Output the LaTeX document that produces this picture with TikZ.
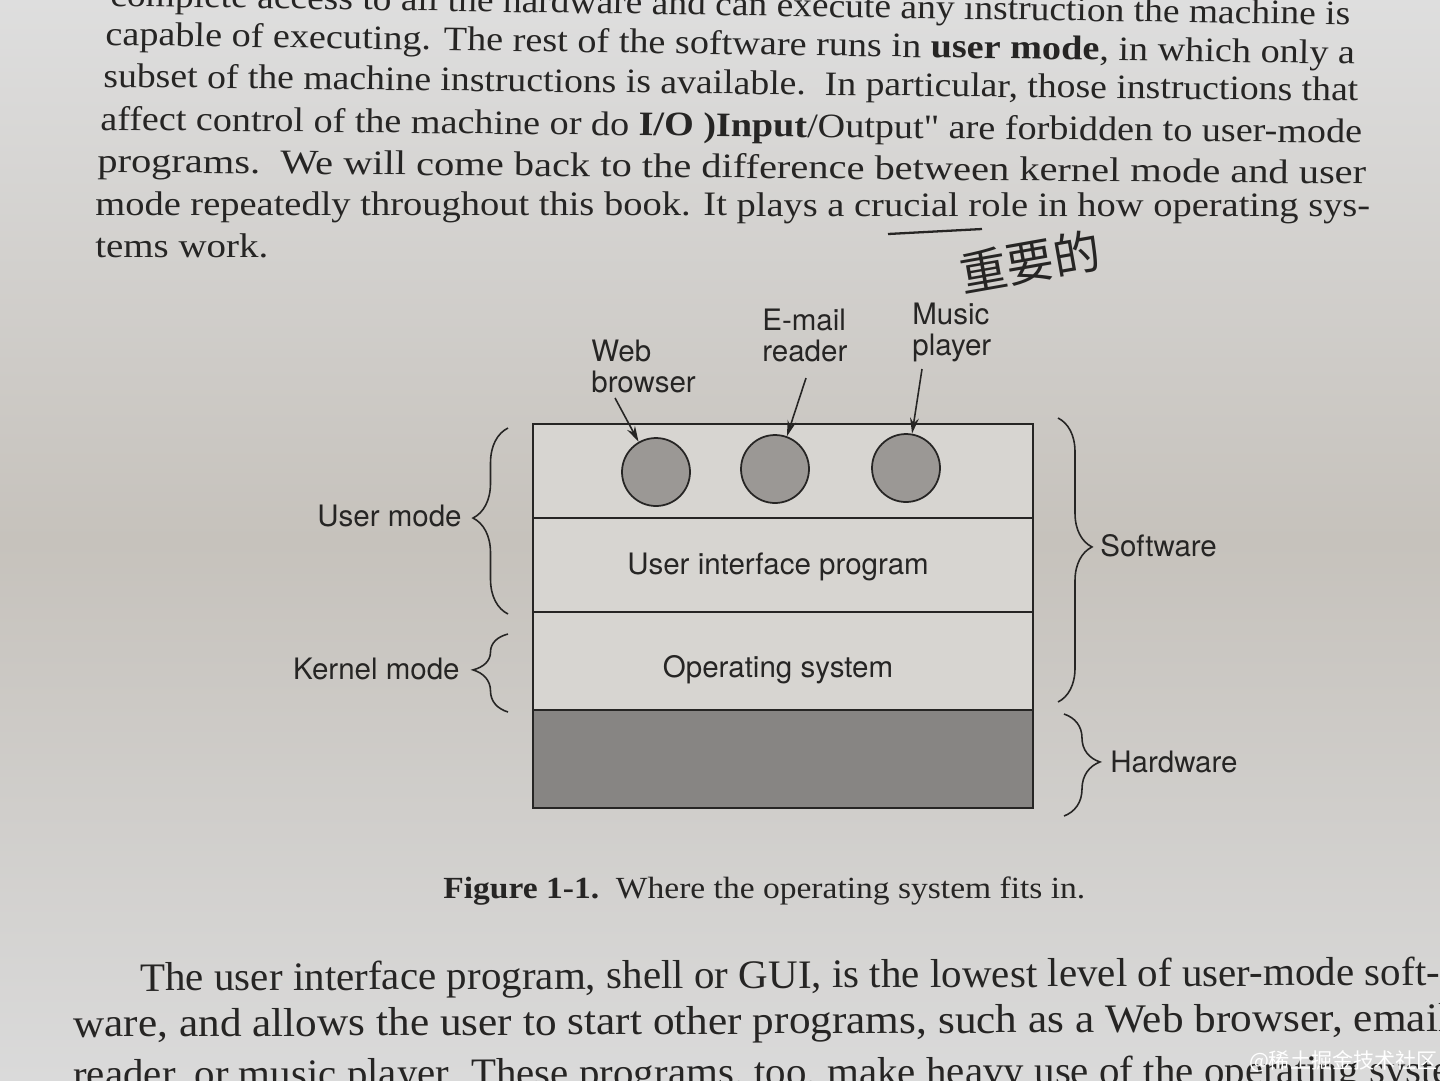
\documentclass[tikz,border=0pt]{standalone}
\usepackage{fontspec}
\setmainfont{Liberation Serif}
\newfontfamily\labfont{TeX Gyre Heros}
\newfontfamily\cjkfont{Noto Sans CJK SC}
\usepackage{graphicx}
\usetikzlibrary{decorations.pathreplacing,arrows.meta}
\newcommand\pageline[2]{\resizebox{#1}{\height}{#2}}
\definecolor{ink}{HTML}{262524}
\definecolor{pgtop}{HTML}{DEDEDE}
\definecolor{pgmid}{HTML}{C6C2BC}
\definecolor{pgbot}{HTML}{DADADA}
\definecolor{boxfill}{HTML}{D7D5D1}
\definecolor{appfill}{HTML}{9B9895}
\definecolor{hwfill}{HTML}{878583}
\tikzset{
  body/.style={anchor=base west, inner sep=0, text=ink, font=\fontsize{19.5}{20}\selectfont},
  big/.style={anchor=base west, inner sep=0, text=ink, font=\fontsize{23}{24}\selectfont},
  lab/.style={inner sep=0, text=ink, font=\labfont\fontsize{16.8}{17.6}\selectfont},
  layer/.style={draw=ink, line width=1pt, minimum width=10cm, inner sep=0, fill=boxfill},
  app/.style={circle, draw=ink, line width=1pt, fill=appfill, minimum size=1.36cm, inner sep=0},
  arr/.style={draw=ink, line width=0.9pt, -{Stealth[length=9pt,width=5pt]}},
  bracestyle/.style={draw=ink, line width=0.9pt, decorate, decoration={brace, amplitude=#1}},
}
\begin{document}
\begin{tikzpicture}[x=0.02cm, y=-0.02cm]
\useasboundingbox (0,0) rectangle (1440,1080);
\clip (0,0) rectangle (1440,1080);
\shade[top color=pgtop, bottom color=pgbot, middle color=pgmid] (0,0) rectangle (1440,1080);

% body text above figure
\node[body, rotate=-0.88] (l0) at (110,6) {\pageline{24.8cm}{complete access to all the hardware and can execute any instruction the machine is}};
\node[body, rotate=-0.87] (l1) at (105,45) {\pageline{25cm}{capable of executing. The rest of the software runs in \textbf{user mode}, in which only a}};
\node[body, rotate=-0.64] (l2) at (103,87) {\pageline{25.1cm}{subset of the machine instructions is available.\ \ In particular, those instructions that}};
\node[body, rotate=-0.59] (l3) at (100,130) {\pageline{25.24cm}{affect control of the machine or do \textbf{I/O )Input}/Output\textquotedbl{} are forbidden to user-mode}};
\node[body, rotate=-0.54] (l4) at (97,172) {\pageline{25.38cm}{programs.\ \ We will come back to the difference between kernel mode and user}};
\node[body, rotate=-0.09] (l5) at (95,215) {\pageline{25.5cm}{mode repeatedly throughout this book. It plays a crucial role in how operating sys-}};
\node[body] (l6) at (95,257) {\pageline{3.46cm}{tems work.}};

% handwritten note
\draw[ink, line width=1.3pt] (888,234) -- (982,229);
\node[inner sep=0, text=ink, font=\cjkfont\fontsize{27}{27}\selectfont, rotate=10] (note) at (1030,262) {重要的};

% layers
\node[layer, minimum height=1.88cm] (apps) at (783,471) {};
\node[layer, minimum height=1.88cm] (ui) at (783,565) {};
\node[layer, minimum height=1.96cm] (os) at (783,661) {};
\node[layer, minimum height=1.96cm, fill=hwfill] (hw) at (783,759) {};
\node[lab, anchor=base] (uitext) at (778,574) {User interface program};
\node[lab, anchor=base] (ostext) at (778,677) {Operating system};

% applications
\node[app] (c1) at (656,472) {};
\node[app] (c2) at (775,469) {};
\node[app] (c3) at (906,468) {};

\node[lab, anchor=north west, align=left] (web) at (591,340) {Web\\browser};
\node[lab, anchor=north west, align=left] (mail) at (762,309) {E-mail\\reader};
\node[lab, anchor=north west, align=left] (music) at (912,303) {Music\\player};

\coordinate (wt) at (615,398);
\coordinate (et) at (806,378);
\coordinate (mt) at (922,369);
\draw[arr] (wt) -- (c1.120);
\draw[arr] (et) -- (c2.70);
\draw[arr] (mt) -- (c3.80);

% braces
\draw[bracestyle=0.7cm, decoration={aspect=0.516}] (508,614) -- (508,428);
\draw[bracestyle=0.7cm, decoration={aspect=0.54}] (508,712) -- (508,634);
\draw[bracestyle=0.68cm, decoration={aspect=0.454}] (1058,418) -- (1058,702);
\draw[bracestyle=0.72cm, decoration={aspect=0.47}] (1064,714) -- (1064,816);

\node[lab, anchor=east] (umode) at (462,516) {User mode};
\node[lab, anchor=east] (kmode) at (460,669) {Kernel mode};
\node[lab, anchor=west] (sw) at (1100,546) {Software};
\node[lab, anchor=west] (hwl) at (1110,762) {Hardware};

% caption
\node[anchor=base west, inner sep=0, text=ink, font=\fontsize{17.5}{18}\selectfont] (cap) at (443,898) {\pageline{12.84cm}{\textbf{Figure 1-1.}\enspace Where the operating system fits in.}};

% body text below figure
\node[big, rotate=0.26] (b1) at (140,991) {\pageline{26cm}{The user interface program, shell or GUI, is the lowest level of user-mode soft-}};
\node[big, rotate=0.25] (b2) at (73,1037) {\pageline{27.54cm}{ware, and allows the user to start other programs, such as a Web browser, email}};
\node[big, rotate=0.2] (b3) at (73,1088) {\pageline{28.4cm}{reader, or music player. These programs, too, make heavy use of the operating system.}};

% watermark
\node[anchor=base east, inner sep=0, text=white, font=\cjkfont\fontsize{12}{12}\selectfont] (wm) at (1438,1068) {@稀土掘金技术社区};
\end{tikzpicture}
\end{document}
